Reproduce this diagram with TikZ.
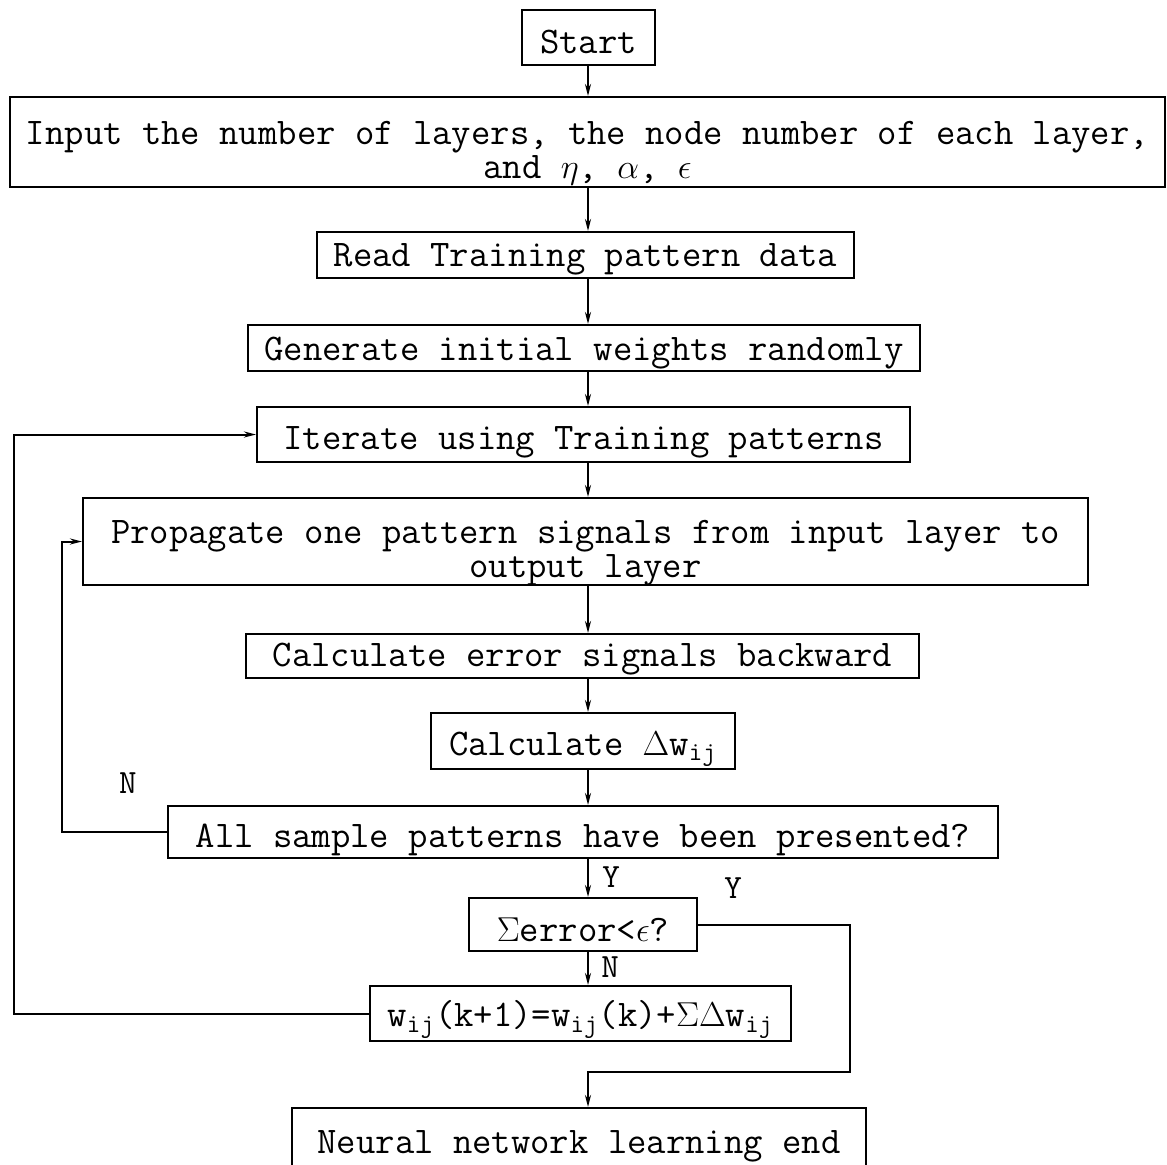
\documentclass[tikz,border=0pt]{standalone}
\usepackage{fontspec}
\usetikzlibrary{arrows.meta}
\newcommand\dropt[2]{\raisebox{-#1}[\height][\depth]{#2}}
\begin{document}
\begin{tikzpicture}[x=0.5pt,y=-0.5pt,line width=1pt,
  font=\ttfamily\fontsize{18.8}{17}\selectfont,
  box/.style={draw,rectangle,inner sep=0pt},
  arr/.style={-{Stealth[length=6pt,width=3pt]}},
  lbl/.style={inner sep=0pt,font=\ttfamily\fontsize{17}{17}\selectfont}]
\useasboundingbox (0,0) rectangle (1167,1164);
\coordinate (ax) at (588,0);
\node[box,minimum width=66.5pt,minimum height=27.5pt] (start) at (588.5,37.5) {\dropt{2.5pt}{Start}};
\node[box,minimum width=577.5pt,minimum height=45pt] (input) at (587.5,142)
  {\dropt{6.5pt}{\begin{tabular}{@{}c@{}}Input the number of layers, the node number of each layer,\\and $\eta$, $\alpha$, $\epsilon$\end{tabular}}};
\node[box,minimum width=268.5pt,minimum height=23pt] (read) at (585.5,255) {\dropt{2pt}{Read Training pattern data}};
\node[box,minimum width=336pt,minimum height=23pt] (gen) at (584,348) {\dropt{2.5pt}{Generate initial weights randomly}};
\node[box,minimum width=326.5pt,minimum height=27.5pt] (iter) at (583.5,434.5) {\dropt{4pt}{Iterate using Training patterns}};
\node[box,minimum width=502.5pt,minimum height=43.5pt] (prop) at (585.5,541.5)
  {\dropt{6pt}{\begin{tabular}{@{}c@{}}Propagate one pattern signals from input layer to\\output layer\end{tabular}}};
\node[box,minimum width=336.5pt,minimum height=22pt] (err) at (582.5,656) {\dropt{1.5pt}{Calculate error signals backward}};
\node[box,minimum width=152pt,minimum height=28pt] (dw) at (583,741) {\dropt{4pt}{Calculate $\Delta$w\textsubscript{ij}}};
\node[box,minimum width=415pt,minimum height=26pt] (all) at (583,832) {\dropt{4pt}{All sample patterns have been presented?}};
\node[box,minimum width=114pt,minimum height=26.5pt] (sum) at (583,924.5) {\dropt{2.5pt}{$\Sigma$error<$\epsilon$?}};
\node[box,minimum width=210.5pt,minimum height=27.5pt] (upd) at (580.5,1013.5)
  {\dropt{3pt}{w\textsubscript{ij}(k+1)=w\textsubscript{ij}(k)+$\Sigma\Delta$w\textsubscript{ij}}};
\node[box,minimum width=287pt,minimum height=31pt] (end) at (579,1139) {\dropt{3.5pt}{Neural network learning end}};
% main flow
\draw[arr] (start.south -| ax) -- (input.north -| ax);
\draw[arr] (input.south -| ax) -- (read.north -| ax);
\draw[arr] (read.south -| ax) -- (gen.north -| ax);
\draw[arr] (gen.south -| ax) -- (iter.north -| ax);
\draw[arr] (iter.south -| ax) -- (prop.north -| ax);
\draw[arr] (prop.south -| ax) -- (err.north -| ax);
\draw[arr] (err.south -| ax) -- (dw.north -| ax);
\draw[arr] (dw.south -| ax) -- (all.north -| ax);
\draw[arr] (all.south -| ax) -- (sum.north -| ax);
\draw[arr] (sum.south -| ax) -- (upd.north -| ax);
% loops
\coordinate (lx) at (14,0);
\coordinate (nx) at (62,0);
\coordinate (yx) at (850,0);
\coordinate (yy) at (0,1072);
\draw[arr] (upd.west) -- (lx |- upd.west) -- (lx |- iter.west) -- (iter.west);
\draw[arr] (all.west) -- (nx |- all.west) -- (nx |- prop.west) -- (prop.west);
\draw[arr] (sum.east) -- (yx |- sum.east) -- (yx |- yy) -- (ax |- yy) -- (end.north -| ax);
% labels
\node[lbl] (lN1) at (128,783) {N};
\node[lbl] (lY1) at (611,877) {Y};
\node[lbl] (lY2) at (733,888) {Y};
\node[lbl] (lN2) at (610,967) {N};
\end{tikzpicture}
\end{document}
